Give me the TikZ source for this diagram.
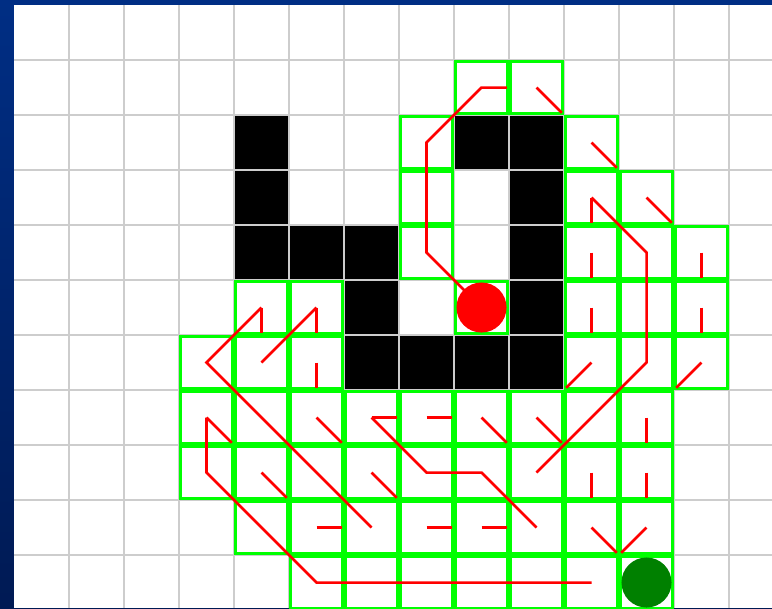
\documentclass[tikz,border=0pt]{standalone}
\usetikzlibrary{shapes}
\definecolor{slidetop}{RGB}{0,46,132}
\definecolor{slidebot}{RGB}{0,26,84}
\definecolor{gridgray}{RGB}{205,205,205}
\definecolor{openlime}{RGB}{0,255,0}
\definecolor{goalgreen}{RGB}{0,128,0}
\tikzstyle{wall}=[fill=black]
\tikzstyle{gridln}=[draw=gridgray,line width=1pt]
\tikzstyle{opencell}=[draw=openlime,line width=1.4pt]
\tikzstyle{trail}=[draw=red,line width=1.3pt]
\tikzstyle{startpt}=[circle,fill=red,inner sep=0pt,minimum size=0.91cm]
\tikzstyle{goalpt}=[circle,fill=goalgreen,inner sep=0pt,minimum size=0.91cm]

\begin{document}
\begin{tikzpicture}[x=1cm,y=-1cm]
\useasboundingbox (-0.2545,-0.0909) rectangle (13.7818,10.9636);
\shade [top color=slidetop,bottom color=slidebot] (-0.2545,-0.0909) rectangle (13.7818,10.9636);
\fill [white] (0,0) rectangle (13.7818,10.9636);
\foreach \c/\r in {4/2,4/3,4/4,5/4,6/4,6/5,6/6,7/6,8/6,9/6,9/5,9/4,9/3,9/2,8/2}
  \fill [wall] (\c,\r) rectangle (\c+1,\r+1);
\foreach \c in {1,...,13} \draw [gridln] (\c,0) -- (\c,10.9636);
\foreach \r in {1,...,10} \draw [gridln] (0,\r) -- (13.7818,\r);
\foreach \r/\cols in {1/{8,9},2/{7,10},3/{7,10,11},4/{7,10,11,12},5/{4,5,8,10,11,12},6/{3,4,5,10,11,12},7/{3,...,11},8/{3,...,11},9/{4,...,11},10/{5,...,11}}
  \foreach \c in \cols
    \draw [opencell] (\c+0.024,\r+0.024) rectangle (\c+0.976,\r+0.976);
\node (S) [startpt] at (8.5,5.5) {};
\node (G) [goalpt] at (11.5,10.5) {};
\draw [trail] (S.center) -- (7.5,4.5) -- (7.5,2.5) -- (8.5,1.5) -- (8.96,1.5);
\draw [trail] (10.5,3.5) -- (11.5,4.5) -- (11.5,6.5) -- (9.5,8.5);
\draw [trail] (4.5,5.5) -- (3.5,6.5) -- (6.5,9.5);
\draw [trail] (5.5,5.5) -- (4.5,6.5);
\draw [trail] (3.5,7.5) -- (3.5,8.5) -- (5.5,10.5) -- (10.5,10.5);
\draw [trail] (6.5,7.5) -- (7.5,8.5) -- (8.5,8.5) -- (9.5,9.5);
\foreach \c/\r/\dx/\dy in {9/1/1/1,10/2/1/1,10/3/0/1,11/3/1/1,10/4/0/1,12/4/0/1,4/5/0/1,5/5/0/1,10/5/0/1,12/5/0/1,5/6/0/1,10/6/-1/1,12/6/-1/1,3/7/1/1,5/7/1/1,6/7/1/0,7/7/1/0,8/7/1/1,9/7/1/1,11/7/0/1,4/8/1/1,6/8/1/1,10/8/0/1,11/8/0/1,5/9/1/0,7/9/1/0,8/9/1/0,10/9/1/1,11/9/-1/1}
  \draw [trail] (\c+0.5,\r+0.5) -- ++({0.46*(\dx)},{0.46*(\dy)});
\end{tikzpicture}
\end{document}
